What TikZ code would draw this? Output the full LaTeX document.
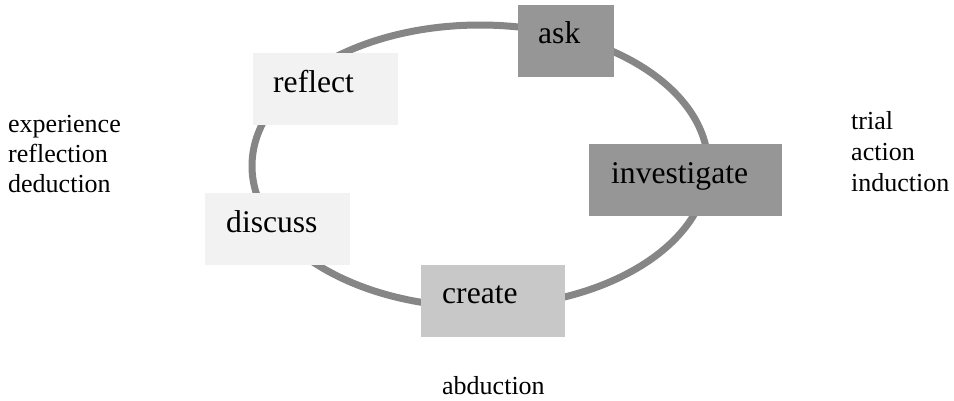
\documentclass[tikz,border=0pt]{standalone}
\usepackage{fontspec}
\setmainfont{Liberation Serif}
\usetikzlibrary{calc}
\definecolor{ringgray}{HTML}{868686}
\definecolor{darkbox}{HTML}{969696}
\definecolor{lightbox}{HTML}{F2F2F2}
\definecolor{midbox}{HTML}{C8C8C8}
\begin{document}
\begin{tikzpicture}[x=1pt,y=-1pt,
  box/.style={rectangle, inner sep=0pt, anchor=north west},
  lbl/.style={inner sep=0pt, anchor=base west, font=\fontsize{31.6}{37}\selectfont},
  side/.style={inner sep=0pt, anchor=north west, font=\fontsize{26}{30}\selectfont, align=left}]
\useasboundingbox (0,0) rectangle (954,400);
\draw[ringgray, line width=7pt] (480,166) ellipse [x radius=228, y radius=141];
% boxes
\node[box, fill=darkbox, minimum width=96, minimum height=72] (ask) at (518,5) {};
\node[box, fill=lightbox, minimum width=145, minimum height=72] (reflect) at (253,53) {};
\node[box, fill=darkbox, minimum width=193, minimum height=72] (investigate) at (589,144) {};
\node[box, fill=lightbox, minimum width=145, minimum height=72] (discuss) at (205,193) {};
\node[box, fill=midbox, minimum width=144, minimum height=72] (create) at (421,265) {};
% labels
\node[lbl] (askt) at ($(ask.north west)+(20,38)$) {ask};
\node[lbl] (reflectt) at ($(reflect.north west)+(20,39)$) {reflect};
\node[lbl] (investigatet) at ($(investigate.north west)+(22,39)$) {investigate};
\node[lbl] (discusst) at ($(discuss.north west)+(21,39)$) {discuss};
\node[lbl] (createt) at ($(create.north west)+(21,38)$) {create};
% side texts
\node[side] (leftt) at (8,111) {\strut experience\\\strut reflection\\\strut deduction};
\node[side, font=\fontsize{26}{31}\selectfont] (rightt) at (851,108) {\strut trial\\\strut action\\\strut induction};
\node[inner sep=0pt, anchor=base west, font=\fontsize{26}{30}\selectfont] (bottomt) at (442,394) {abduction};
\end{tikzpicture}
\end{document}
